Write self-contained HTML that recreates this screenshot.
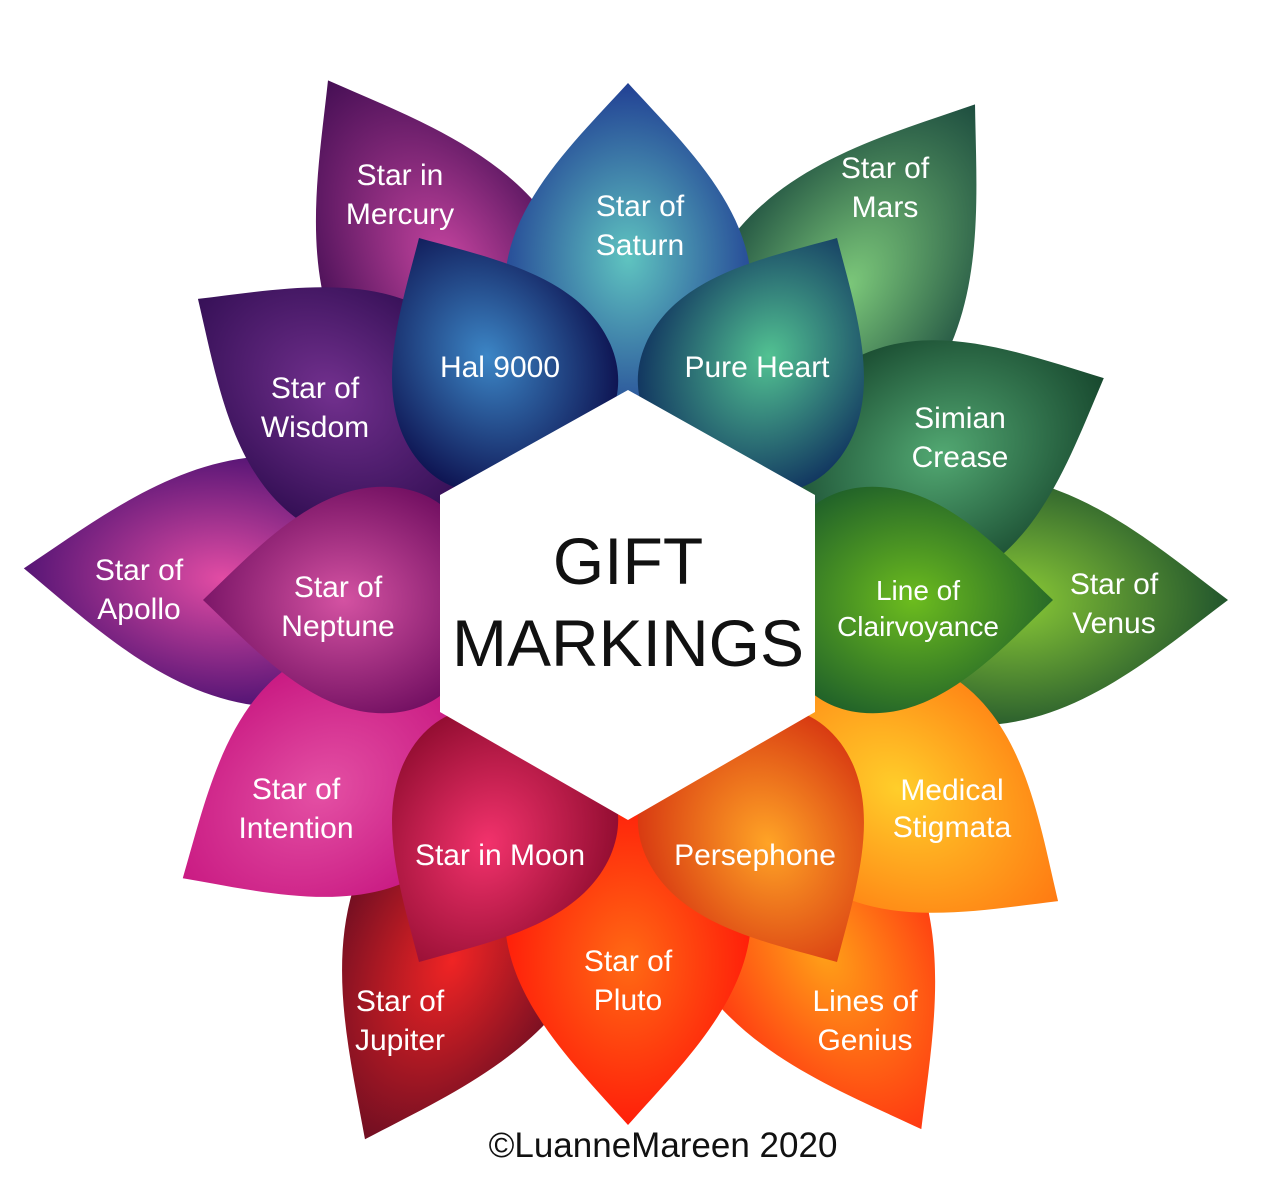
<!DOCTYPE html>
<html><head><meta charset="utf-8"><style>
html,body{margin:0;padding:0;background:#fff;}
svg{display:block;}
text{font-family:"Liberation Sans",sans-serif;}
.w{fill:#fff;font-size:30px;text-anchor:middle;}
</style></head><body>
<svg width="1280" height="1189" viewBox="0 0 1280 1189" xmlns="http://www.w3.org/2000/svg">
<defs>
<path id="p" d="M0,-1 C-0.2,-0.8 -0.46,-0.58 -0.43,-0.3 C-0.4,-0.05 -0.15,0.02 0,0.02 C0.15,0.02 0.4,-0.05 0.43,-0.3 C0.46,-0.58 0.2,-0.8 0,-1 Z"/>
<radialGradient id="gMer" cx="0.55" cy="0.55" r="0.6"><stop offset="0" stop-color="#c5449f"/><stop offset="1" stop-color="#3a0a4e"/></radialGradient>
<radialGradient id="gSat" cx="0.5" cy="0.55" r="0.6"><stop offset="0" stop-color="#5fc4c0"/><stop offset="1" stop-color="#1c3490"/></radialGradient>
<radialGradient id="gMar" cx="0.5" cy="0.55" r="0.6"><stop offset="0" stop-color="#7cc87a"/><stop offset="1" stop-color="#15423a"/></radialGradient>
<radialGradient id="gSim" cx="0.5" cy="0.55" r="0.6"><stop offset="0" stop-color="#52a872"/><stop offset="1" stop-color="#123f28"/></radialGradient>
<radialGradient id="gVen" cx="0.5" cy="0.55" r="0.6"><stop offset="0" stop-color="#8ccc36"/><stop offset="1" stop-color="#184a2c"/></radialGradient>
<radialGradient id="gMed" cx="0.5" cy="0.6" r="0.6"><stop offset="0" stop-color="#ffce2a"/><stop offset="1" stop-color="#ff7a12"/></radialGradient>
<radialGradient id="gGen" cx="0.5" cy="0.5" r="0.6"><stop offset="0" stop-color="#ffa018"/><stop offset="1" stop-color="#ff2410"/></radialGradient>
<radialGradient id="gPlu" cx="0.5" cy="0.5" r="0.6"><stop offset="0" stop-color="#ff6a14"/><stop offset="1" stop-color="#ff1008"/></radialGradient>
<radialGradient id="gJup" cx="0.5" cy="0.5" r="0.6"><stop offset="0" stop-color="#f02424"/><stop offset="1" stop-color="#560a22"/></radialGradient>
<radialGradient id="gInt" cx="0.5" cy="0.5" r="0.6"><stop offset="0" stop-color="#e450a4"/><stop offset="1" stop-color="#c4107c"/></radialGradient>
<radialGradient id="gApo" cx="0.5" cy="0.5" r="0.6"><stop offset="0" stop-color="#e24ca4"/><stop offset="1" stop-color="#3a0a6c"/></radialGradient>
<radialGradient id="gWis" cx="0.5" cy="0.5" r="0.6"><stop offset="0" stop-color="#72308e"/><stop offset="1" stop-color="#2a0a4c"/></radialGradient>
<radialGradient id="gHal" cx="0.5" cy="0.5" r="0.6"><stop offset="0" stop-color="#3c86c6"/><stop offset="1" stop-color="#0a0a48"/></radialGradient>
<radialGradient id="gPur" cx="0.5" cy="0.5" r="0.6"><stop offset="0" stop-color="#52c292"/><stop offset="1" stop-color="#0c2a5c"/></radialGradient>
<radialGradient id="gCla" cx="0.5" cy="0.5" r="0.6"><stop offset="0" stop-color="#6cbc1e"/><stop offset="1" stop-color="#1a5a2a"/></radialGradient>
<radialGradient id="gPer" cx="0.5" cy="0.5" r="0.6"><stop offset="0" stop-color="#ffa426"/><stop offset="1" stop-color="#d43010"/></radialGradient>
<radialGradient id="gMoo" cx="0.5" cy="0.5" r="0.6"><stop offset="0" stop-color="#f2326c"/><stop offset="1" stop-color="#8a0a2c"/></radialGradient>
<radialGradient id="gNep" cx="0.5" cy="0.5" r="0.6"><stop offset="0" stop-color="#d452a2"/><stop offset="1" stop-color="#6a0a5c"/></radialGradient>
</defs>
<g transform="translate(628,600)">
<!-- long outer petals -->
<use href="#p" fill="url(#gVen)" transform="rotate(90) translate(0,-215) scale(290,385)"/>
<use href="#p" fill="url(#gMar)" transform="rotate(35) translate(0,-210) scale(285,395)"/>
<use href="#p" fill="url(#gMer)" transform="rotate(-30) translate(0,-210) scale(285,390)"/>
<use href="#p" fill="url(#gApo)" transform="rotate(-87) translate(0,-215) scale(290,390)"/>
<use href="#p" fill="url(#gGen)" transform="rotate(151) translate(0,-210) scale(285,395)"/>
<use href="#p" fill="url(#gJup)" transform="rotate(-154) translate(0,-210) scale(285,390)"/>
<!-- short outer petals -->
<use href="#p" fill="url(#gSim)" transform="rotate(65) translate(0,-205) scale(285,320)"/>
<use href="#p" fill="url(#gMed)" transform="rotate(125) translate(0,-205) scale(285,320)"/>
<use href="#p" fill="url(#gWis)" transform="rotate(-55) translate(0,-205) scale(285,320)"/>
<use href="#p" fill="url(#gInt)" transform="rotate(-122) translate(0,-205) scale(285,320)"/>
<use href="#p" fill="url(#gPlu)" transform="rotate(180) translate(0,-205) scale(285,320)"/>
<use href="#p" fill="url(#gSat)" transform="rotate(0) translate(0,-205) scale(285,312)"/>
<!-- inner petals -->
<use href="#p" fill="url(#gHal)" transform="rotate(-30) translate(0,-150) scale(262,268)"/>
<use href="#p" fill="url(#gPur)" transform="rotate(30) translate(0,-150) scale(262,268)"/>
<use href="#p" fill="url(#gCla)" transform="rotate(90) translate(0,-150) scale(262,275)"/>
<use href="#p" fill="url(#gPer)" transform="rotate(150) translate(0,-150) scale(262,268)"/>
<use href="#p" fill="url(#gMoo)" transform="rotate(-150) translate(0,-150) scale(262,268)"/>
<use href="#p" fill="url(#gNep)" transform="rotate(-90) translate(0,-150) scale(262,275)"/>
</g>
<polygon points="440,495 628,390 815,495 815,712 628,820 440,712" fill="#fff"/>
<text x="628" y="584" font-size="66" text-anchor="middle" fill="#111">GIFT</text>
<text x="628" y="666" font-size="66" text-anchor="middle" fill="#111">MARKINGS</text>
<g class="w">
<text x="400" y="185">Star in</text><text x="400" y="224">Mercury</text>
<text x="640" y="216">Star of</text><text x="640" y="255">Saturn</text>
<text x="885" y="178">Star of</text><text x="885" y="217">Mars</text>
<text x="315" y="398">Star of</text><text x="315" y="437">Wisdom</text>
<text x="500" y="377">Hal 9000</text>
<text x="757" y="377">Pure Heart</text>
<text x="960" y="428">Simian</text><text x="960" y="467">Crease</text>
<text x="139" y="580">Star of</text><text x="139" y="619">Apollo</text>
<text x="338" y="597">Star of</text><text x="338" y="636">Neptune</text>
<text x="918" y="600" font-size="28">Line of</text><text x="918" y="636" font-size="28">Clairvoyance</text>
<text x="1114" y="594">Star of</text><text x="1114" y="633">Venus</text>
<text x="296" y="799">Star of</text><text x="296" y="838">Intention</text>
<text x="952" y="800">Medical</text><text x="952" y="837">Stigmata</text>
<text x="500" y="865">Star in Moon</text>
<text x="755" y="865">Persephone</text>
<text x="628" y="971">Star of</text><text x="628" y="1010">Pluto</text>
<text x="400" y="1011">Star of</text><text x="400" y="1050">Jupiter</text>
<text x="865" y="1011">Lines of</text><text x="865" y="1050">Genius</text>
</g>
<text x="663" y="1157" font-size="35" text-anchor="middle" fill="#111">©LuanneMareen 2020</text>
</svg>
</body></html>
